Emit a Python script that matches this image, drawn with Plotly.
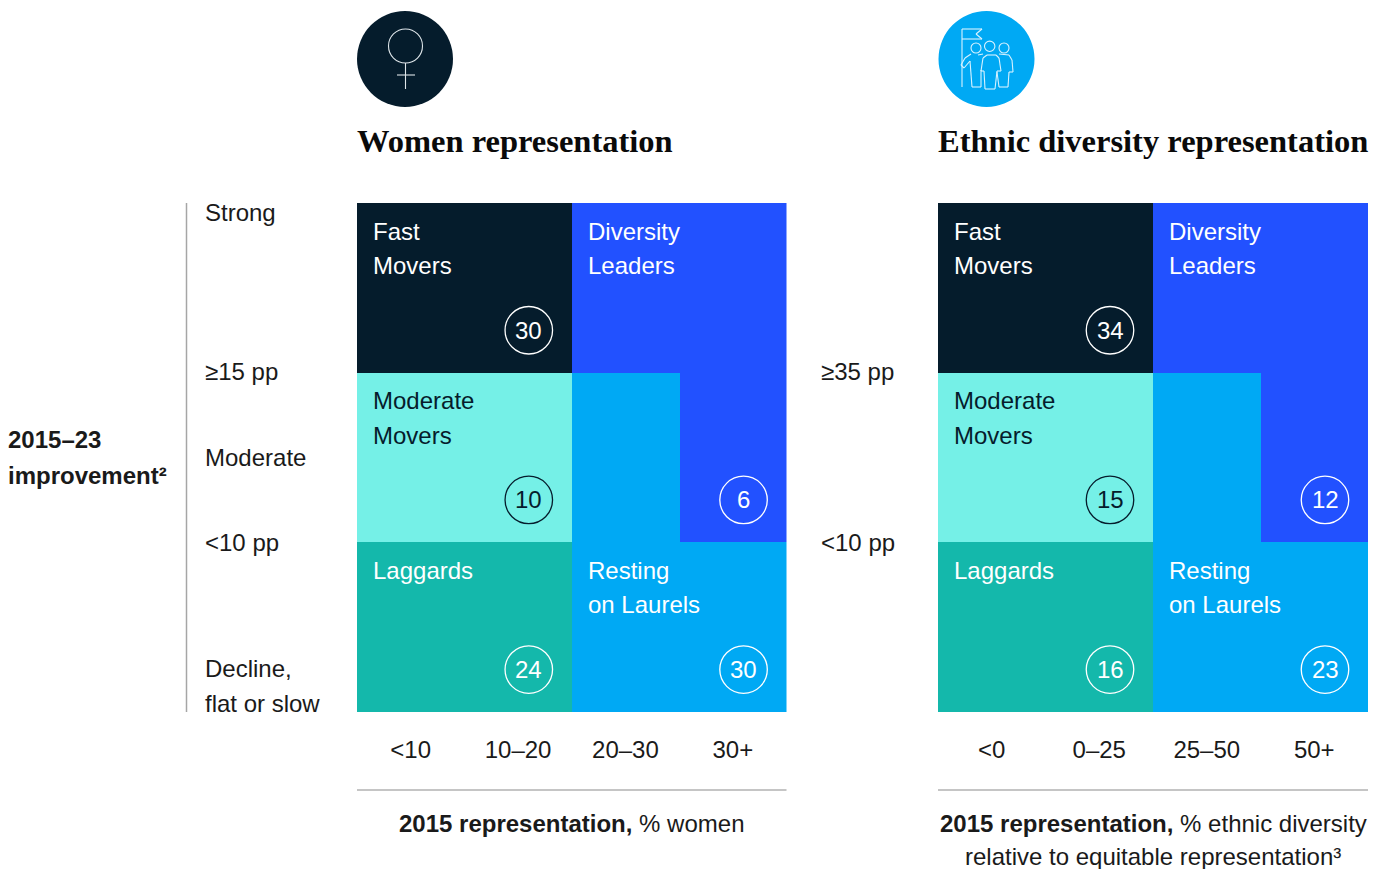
import plotly.graph_objects as go

W, H = 1383, 869
FONT = "Liberation Sans"
SERIF = "Liberation Serif"
DARK = "#051C2C"
TEXT = "#1a1a1a"

# --- data ---
segment_colors = [DARK, "#2251FF", "#00A9F4", "#75F0E7", "#14B8AB"]
# rows listed bottom to top, columns left to right; value = index into segment_colors
grid_rows = [
    [4, 4, 2, 2],
    [3, 3, 2, 1],
    [0, 0, 1, 1],
]
women_ticks = ["<10", "10–20", "20–30", "30+"]
ethnic_ticks = ["<0", "0–25", "25–50", "50+"]
segment_names = ["Fast Movers", "Diversity Leaders", "Moderate Movers", "Laggards", "Resting on Laurels"]
women_counts = [30, 6, 10, 24, 30]
ethnic_counts = [34, 12, 15, 16, 23]
bubble_col = [1.6, 3.6, 1.6, 1.6, 3.6]
bubble_row = [2.25, 1.25, 1.25, 0.25, 0.25]
bubble_text_color = ["white", "white", DARK, "white", "white"]
bubble_line_color = ["white", "white", DARK, "white", "white"]
women_title = "Women representation"
ethnic_title = "Ethnic diversity representation"
women_thresholds = ["≥15 pp", "<10 pp"]
ethnic_thresholds = ["≥35 pp", "<10 pp"]

X1 = (357, 786.5)
X2 = (938, 1368)
Y0 = (203, 712)
PAD = 2  # annotations sit slightly inside their anchor


def px(x):
    return x / W


def py(y):
    return 1 - y / H


fig = go.Figure()
colorscale = []
n = len(segment_colors)
for i, c in enumerate(segment_colors):
    colorscale += [[i / n, c], [(i + 1) / n, c]]

ann = []


def T(x, y, s, size=24, family=FONT, color=TEXT, anchor="left", xref="paper", yref="paper"):
    ann.append(dict(x=x, y=y, text=s, xref=xref, yref=yref, xanchor=anchor, yanchor="middle", showarrow=False,
                    font=dict(family=family, size=size, color=color), align=anchor))


for idx, (counts, ticks) in enumerate([(women_counts, women_ticks), (ethnic_counts, ethnic_ticks)]):
    xa, ya = ("x", "y") if idx == 0 else ("x2", "y2")
    fig.add_trace(go.Heatmap(z=grid_rows, x=[0.5, 1.5, 2.5, 3.5], y=[0.5, 1.5, 2.5], xaxis=xa, yaxis=ya,
                             zmin=-0.5, zmax=n - 0.5, colorscale=colorscale, showscale=False, hoverinfo="skip"))
    fig.add_trace(go.Scatter(x=bubble_col, y=bubble_row, xaxis=xa, yaxis=ya, mode="markers",
                             marker=dict(size=47.5, color="rgba(0,0,0,0)",
                                         line=dict(width=1.3, color=bubble_line_color)),
                             showlegend=False, hoverinfo="skip", cliponaxis=False))
    for col, row, v, c in zip(bubble_col, bubble_row, counts, bubble_text_color):
        T(col, row, str(v), color=c, anchor="center", xref=xa, yref=ya)


def axis(domain, ticks=None):
    d = dict(domain=domain, range=[0, 4], showgrid=False, zeroline=False, showline=False, fixedrange=True)
    d.update(tickmode="array", tickvals=[0.5, 1.5, 2.5, 3.5], ticktext=ticks, ticks="outside", ticklen=16,
             tickcolor="rgba(0,0,0,0)", tickfont=dict(family=FONT, size=24, color=TEXT))
    return d


def yaxis(anchor):
    return dict(domain=[py(Y0[1]), py(Y0[0])], range=[0, 3], showgrid=False, zeroline=False, showline=False,
                showticklabels=False, ticks="", anchor=anchor, fixedrange=True)


# segment names drawn line by line
for ax_x, ax_y in [("x", "y"), ("x2", "y2")]:
    for lines, col, row, c in [
        (segment_names[0].split(" "), 0.13, 2.833, "white"),
        (segment_names[1].split(" "), 2.13, 2.833, "white"),
        (segment_names[2].split(" "), 0.13, 1.835, DARK),
        (segment_names[3].split(" "), 0.13, 0.835, "white"),
        (["Resting", "on Laurels"], 2.13, 0.835, "white"),
    ]:
        for i, line in enumerate(lines):
            T(col, row - i * 0.203, line, color=c, xref=ax_x, yref=ax_y)

T(px(357 - PAD), py(141), f"<b>{women_title}</b>", size=32.5, family=SERIF, color="#0a0a0a")
T(px(938 - PAD), py(141), f"<b>{ethnic_title}</b>", size=32.5, family=SERIF, color="#0a0a0a")

T(px(8 - PAD), py(439.5), "<b>2015–23</b>")
T(px(8 - PAD), py(475), "<b>improvement²</b>")
for s, y in [("Strong", 212.5), ("Moderate", 457), ("Decline,", 668), ("flat or slow", 703)]:
    T(px(205 - PAD), py(y), s)
T(px(205 - PAD), py(372), women_thresholds[0])
T(px(205 - PAD), py(542), women_thresholds[1])
T(px(821 - PAD), py(372), ethnic_thresholds[0])
T(px(821 - PAD), py(542), ethnic_thresholds[1])

T(px(571.5), py(823), "<b>2015 representation,</b> % women", anchor="center")
T(px(1153), py(823), "<b>2015 representation,</b> % ethnic diversity", anchor="center")
T(px(1153), py(856.5), "relative to equitable representation³", anchor="center")

shapes = []


def L(x0, y0, x1, y1, color="#a6a6a6", width=1.5):
    shapes.append(dict(type="line", xref="paper", yref="paper", x0=px(x0), y0=py(y0), x1=px(x1), y1=py(y1),
                       line=dict(color=color, width=width)))


def C(cx, cy, r, fill=None, line=None, width=1.3):
    shapes.append(dict(type="circle", xref="paper", yref="paper", x0=px(cx - r), x1=px(cx + r), y0=py(cy + r),
                       y1=py(cy - r), fillcolor=fill or "rgba(0,0,0,0)",
                       line=dict(color=line or "rgba(0,0,0,0)", width=width if line else 0)))


def P(points, color="#d8f2ff", width=1.1):
    for (a, b), (c, d) in zip(points, points[1:]):
        L(a, b, c, d, color, width)


L(186.5, 203, 186.5, 712)
L(357, 790, 786.5, 790, "#8c8c8c", 1.2)
L(938, 790, 1368, 790, "#8c8c8c", 1.2)

# women icon
C(405, 59, 48, fill=DARK)
C(405.5, 46, 17, line="#dfe6ea", width=1.1)
L(405.5, 63, 405.5, 89, "#dfe6ea", 1.1)
L(397, 75, 415, 75, "#dfe6ea", 1.1)

# ethnic icon
C(986.5, 59, 48, fill="#00A9F4")
ic = "#d8f2ff"
P([(962, 87), (962, 29), (982, 29), (976, 34), (982, 39), (962, 39)])
C(976, 48, 5, line=ic, width=1.1)
C(989.7, 46.3, 5.2, line=ic, width=1.1)
C(1004, 48, 5, line=ic, width=1.1)
P([(971, 54), (965, 58), (961, 65), (964, 68), (970, 61), (972, 87), (981, 87), (981, 70)])
P([(983, 54), (978, 55)])
P([(981, 71), (983, 58), (987, 55), (996, 55), (999, 58), (1001, 71), (997, 71), (995, 89), (985, 89), (984, 71), (981, 71)])
P([(999, 54), (1009, 55), (1012, 60), (1013, 72), (1009, 72), (1008, 87), (999, 87), (997, 72)])

fig.update_layout(
    width=W, height=H, autosize=False, margin=dict(l=0, r=0, t=0, b=0),
    paper_bgcolor="white", plot_bgcolor="white", showlegend=False,
    xaxis=dict(axis([px(X1[0]), px(X1[1])], women_ticks), anchor="y"),
    xaxis2=dict(axis([px(X2[0]), px(X2[1])], ethnic_ticks), anchor="y2"),
    yaxis=yaxis("x"), yaxis2=yaxis("x2"),
    annotations=ann, shapes=shapes,
)
fig.write_html("out.html", config={"displayModeBar": False},
               post_script="document.body.style.margin='0';")
